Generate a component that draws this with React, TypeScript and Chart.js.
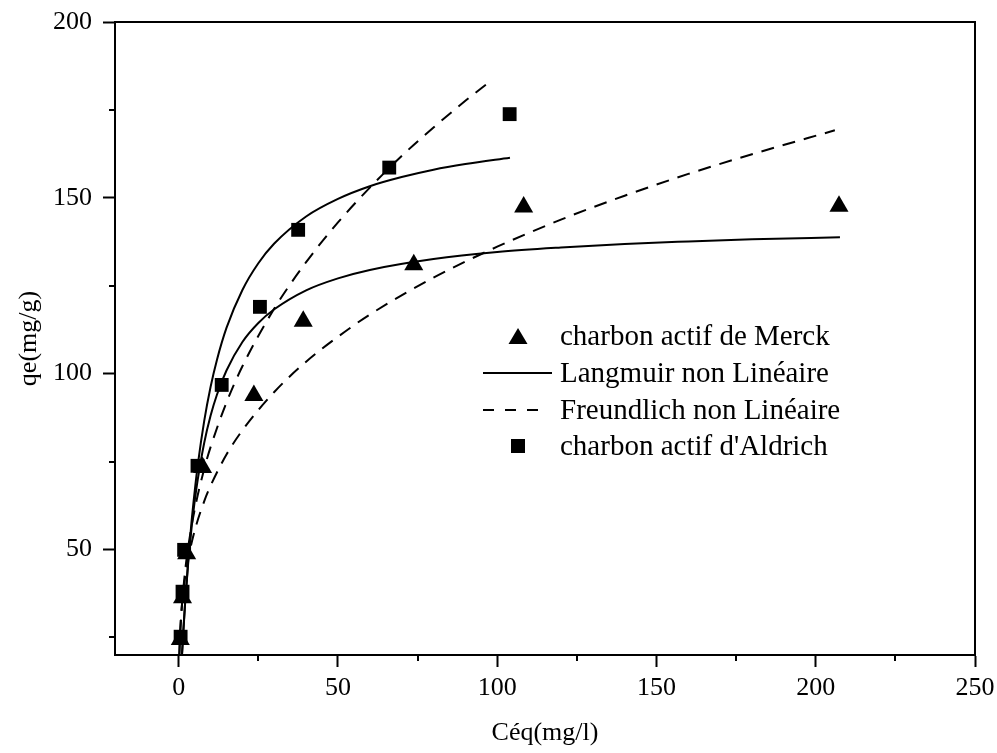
import React, { useEffect, useRef } from 'react';
import { Chart, registerables } from 'chart.js';

Chart.register(...registerables);

// Experimental points
const merckC = [0.5, 1.2, 2.5, 7.5, 23.6, 39.1, 73.8, 108.3, 207.3];
const merckQ = [24.4, 36.3, 48.8, 73.3, 93.8, 114.9, 131.0, 147.4, 147.6];
const aldrichC = [0.6, 1.2, 1.7, 5.9, 13.5, 25.5, 37.5, 66.1, 103.9];
const aldrichQ = [25.2, 38.0, 49.9, 73.8, 96.8, 119.0, 140.9, 158.6, 173.8];

// Langmuir non linéaire (Aldrich)
const langAldC = [1.05, 1.5, 2, 3, 4, 5, 6, 8, 10, 12, 15, 20, 25, 30, 40, 50, 60, 70, 80, 90, 104];
const langAldQ = [20.0, 27.2, 34.5, 47.1, 57.6, 66.4, 74.1, 86.5, 96.2, 103.9, 113.0, 123.8, 131.4, 137.0, 144.7, 149.7, 153.3, 155.9, 158.0, 159.6, 161.4];

// Langmuir non linéaire (Merck)
const langMerC = [1.02, 1.5, 2, 3, 4, 5, 6, 8, 10, 12, 15, 20, 25, 30, 40, 50, 60, 80, 100, 120, 140, 160, 180, 207.6];
const langMerQ = [20.1, 27.7, 34.7, 46.4, 55.8, 63.6, 70.0, 80.3, 88.0, 94.0, 100.9, 109.0, 114.4, 118.3, 123.7, 127.1, 129.5, 132.6, 134.6, 135.9, 136.9, 137.6, 138.2, 138.8];

// Freundlich non linéaire (Aldrich)
const freAldC = [0.24, 0.4, 0.7, 1, 2, 3, 5, 8, 10, 15, 20, 30, 40, 50, 60, 70, 80, 90, 97.5];
const freAldQ = [20.1, 24.2, 29.7, 33.9, 43.8, 50.8, 61.3, 72.9, 79.1, 91.8, 102.1, 118.5, 131.7, 143.0, 152.9, 161.9, 170.0, 177.6, 182.9];

// Freundlich non linéaire (Merck)
const freMerC = [0.17, 0.3, 0.5, 1, 2, 3, 5, 8, 10, 15, 20, 30, 40, 50, 60, 80, 100, 120, 140, 160, 180, 206];
const freMerQ = [20.0, 23.7, 27.7, 34.1, 42.0, 47.4, 55.3, 63.7, 68.1, 77.0, 83.9, 94.8, 103.4, 110.5, 116.8, 127.3, 136.1, 143.8, 150.6, 156.8, 162.4, 169.2];

// Axis ticks
const xMinorTicks = [25, 75, 125, 175, 225];
const yMinorTicks = [25, 75, 125, 175];

const legendLabels = [
  'charbon actif de Merck',
  'Langmuir non Linéaire',
  'Freundlich non Linéaire',
  "charbon actif d'Aldrich",
];

const FONT = "'Liberation Serif', 'Times New Roman', serif";

const pts = (xs: number[], ys: number[]) => xs.map((x, i) => ({ x, y: ys[i] }));

const framePlugin = {
  id: 'frameAndMinor',
  afterDraw(chart: any) {
    const { ctx, chartArea, scales } = chart;
    const { left, right, top, bottom } = chartArea;
    ctx.save();
    ctx.strokeStyle = '#000';
    ctx.lineWidth = 2;
    ctx.beginPath();
    ctx.moveTo(left, top);
    ctx.lineTo(right, top);
    ctx.lineTo(right, bottom);
    ctx.stroke();
    // minor ticks
    ctx.beginPath();
    xMinorTicks.forEach((v) => {
      const px = Math.round(scales.x.getPixelForValue(v));
      ctx.moveTo(px, bottom);
      ctx.lineTo(px, bottom + 6);
    });
    yMinorTicks.forEach((v) => {
      const py = Math.round(scales.y.getPixelForValue(v));
      ctx.moveTo(left, py);
      ctx.lineTo(left - 6, py);
    });
    ctx.stroke();

    // legend
    const rows = [336, 373, 410, 446];
    const textX = 560;
    ctx.fillStyle = '#000';
    // triangle
    ctx.beginPath();
    ctx.moveTo(518, rows[0] - 8);
    ctx.lineTo(527.5, rows[0] + 8);
    ctx.lineTo(508.5, rows[0] + 8);
    ctx.closePath();
    ctx.fill();
    // solid line
    ctx.beginPath();
    ctx.setLineDash([]);
    ctx.moveTo(483, rows[1]);
    ctx.lineTo(552, rows[1]);
    ctx.stroke();
    // dashed line
    ctx.beginPath();
    ctx.setLineDash([11, 11]);
    ctx.moveTo(483, rows[2]);
    ctx.lineTo(538, rows[2]);
    ctx.stroke();
    ctx.setLineDash([]);
    // square
    ctx.fillRect(511, rows[3] - 7, 14, 14);
    ctx.font = `29px ${FONT}`;
    ctx.textBaseline = 'middle';
    ctx.textAlign = 'left';
    legendLabels.forEach((t, i) => ctx.fillText(t, textX, rows[i] + 1));
    ctx.restore();
  },
};

const zeroPad = (s: any) => {
  s.paddingTop = 0;
  s.paddingBottom = 0;
  s.paddingLeft = 0;
  s.paddingRight = 0;
};

export default function App() {
  const ref = useRef<HTMLCanvasElement | null>(null);
  useEffect(() => {
    document.body.style.margin = '0';
    const canvas = ref.current;
    if (!canvas) return;
    const chart = new Chart(canvas, {
      type: 'scatter',
      data: {
        datasets: [
          {
            label: legendLabels[0],
            data: pts(merckC, merckQ),
            pointStyle: 'triangle',
            pointRadius: 11,
            backgroundColor: '#000',
            borderColor: '#000',
            borderWidth: 0,
            showLine: false,
          },
          {
            label: legendLabels[3],
            data: pts(aldrichC, aldrichQ),
            pointStyle: 'rect',
            pointRadius: 9.8,
            backgroundColor: '#000',
            borderColor: '#000',
            borderWidth: 0,
            showLine: false,
          },
          {
            label: legendLabels[1] + ' (Aldrich)',
            data: pts(langAldC, langAldQ),
            showLine: true,
            pointRadius: 0,
            borderColor: '#000',
            borderWidth: 2,
            cubicInterpolationMode: 'monotone',
          },
          {
            label: legendLabels[1] + ' (Merck)',
            data: pts(langMerC, langMerQ),
            showLine: true,
            pointRadius: 0,
            borderColor: '#000',
            borderWidth: 2,
            cubicInterpolationMode: 'monotone',
          },
          {
            label: legendLabels[2] + ' (Aldrich)',
            data: pts(freAldC, freAldQ),
            showLine: true,
            pointRadius: 0,
            borderColor: '#000',
            borderWidth: 2,
            borderDash: [13, 9],
            cubicInterpolationMode: 'monotone',
          },
          {
            label: legendLabels[2] + ' (Merck)',
            data: pts(freMerC, freMerQ),
            showLine: true,
            pointRadius: 0,
            borderColor: '#000',
            borderWidth: 2,
            borderDash: [13, 9],
            cubicInterpolationMode: 'monotone',
          },
        ],
      } as any,
      options: {
        animation: false,
        responsive: false,
        maintainAspectRatio: false,
        layout: { padding: { top: 22, right: 22, left: 0, bottom: 0 } },
        plugins: { legend: { display: false }, tooltip: { enabled: false } },
        scales: {
          x: {
            type: 'linear',
            min: -20,
            max: 250,
            ticks: {
              stepSize: 50,
              includeBounds: false,
              autoSkip: false,
              maxRotation: 0,
              color: '#000',
              padding: 6,
              font: { family: FONT, size: 26 },
            },
            grid: { drawOnChartArea: false, drawTicks: true, tickLength: 12, tickWidth: 2, tickColor: '#000' },
            border: { display: true, color: '#000', width: 2 },
            title: {
              display: true,
              text: 'Céq(mg/l)',
              color: '#000',
              font: { family: FONT, size: 26 },
              padding: { top: 0, bottom: 4 },
            },
            afterFit: (s: any) => {
              s.height = 98;
              zeroPad(s);
            },
          },
          y: {
            type: 'linear',
            min: 20,
            max: 200,
            ticks: {
              stepSize: 50,
              includeBounds: false,
              autoSkip: false,
              color: '#000',
              padding: 11,
              font: { family: FONT, size: 26 },
            },
            grid: { drawOnChartArea: false, drawTicks: true, tickLength: 12, tickWidth: 2, tickColor: '#000' },
            border: { display: true, color: '#000', width: 2 },
            title: {
              display: true,
              text: 'qe(mg/g)',
              color: '#000',
              font: { family: FONT, size: 26 },
              padding: { top: 14, bottom: 0 },
            },
            afterFit: (s: any) => {
              s.width = 115;
              zeroPad(s);
            },
          },
        },
      } as any,
      plugins: [framePlugin],
    });
    return () => chart.destroy();
  }, []);
  return (
    <div style={{ position: 'fixed', left: 0, top: 0, width: 997, height: 753, background: '#fff' }}>
      <canvas ref={ref} width={997} height={753} style={{ width: 997, height: 753, display: 'block' }} />
    </div>
  );
}
